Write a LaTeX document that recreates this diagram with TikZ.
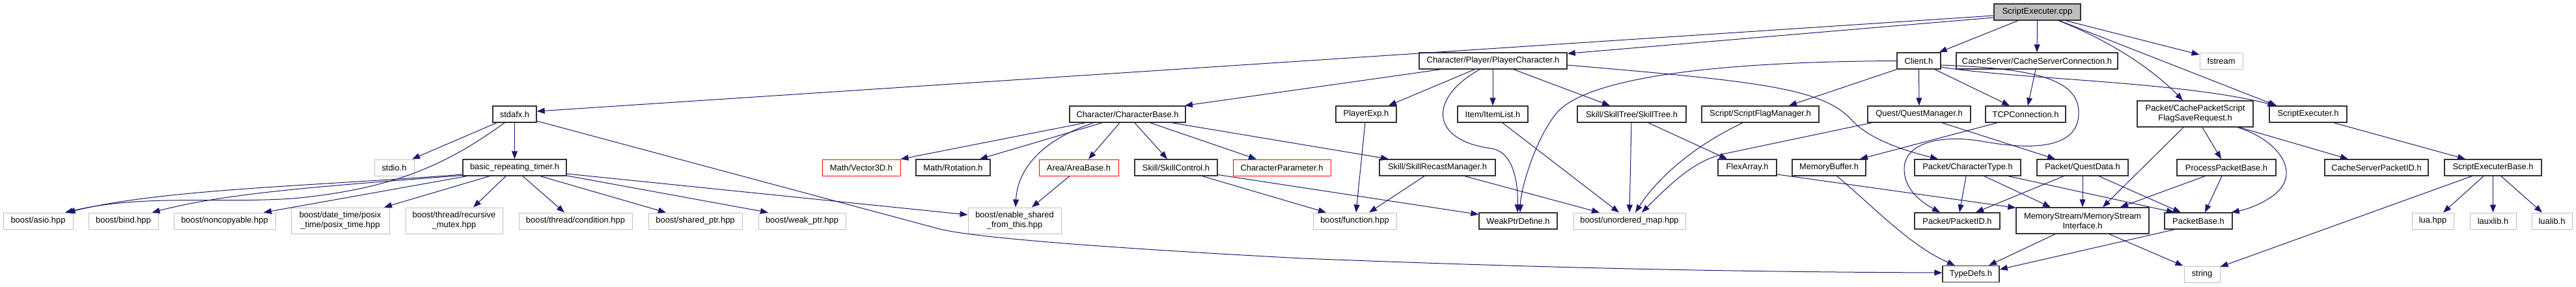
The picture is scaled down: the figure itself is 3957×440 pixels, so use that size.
\documentclass[tikz,border=0pt]{standalone}
\usepackage{fontspec}
\setmainfont{Liberation Sans}
\usetikzlibrary{arrows.meta}
\definecolor{edgec}{HTML}{191970}
\definecolor{docc}{HTML}{333333}
\definecolor{extc}{HTML}{BFBFBF}
\newcommand\nodefont{\fontsize{12.9}{15}\selectfont}
\begin{document}
\begin{tikzpicture}[x=1pt,y=-1pt,
  base/.style={draw, rectangle, inner sep=0pt, minimum height=25pt, font=\nodefont, text=black, line width=1pt},
  doc/.style={base, draw=docc, line width=1.4pt},
  ext/.style={base, draw=extc},
  miss/.style={base, draw=red},
  root/.style={base, draw=docc, line width=1.4pt, fill=extc},
  two/.style={minimum height=40pt, align=center},
  edge/.style={draw=edgec, line width=1pt, -{Triangle[length=12pt,width=9pt]}}
]
\useasboundingbox (0,0) rectangle (3957,440);
% ---------- nodes ----------
\node[root, minimum width=133pt] (cpp) at (3129.5,18.5) {ScriptExecuter.cpp};
\node[doc, minimum width=227pt] (PC) at (2293.5,93.5) {Character/Player/PlayerCharacter.h};
\node[doc, minimum width=67pt] (Client) at (2947.5,93.5) {Client.h};
\node[doc, minimum width=248pt] (CSC) at (3129,93.5) {CacheServer/CacheServerConnection.h};
\node[ext, minimum width=66pt] (fstream) at (3412,93.5) {fstream};
\node[doc, minimum width=67pt] (stdafx) at (790.5,175.5) {stdafx.h};
\node[doc, minimum width=178pt] (CB) at (1732,175.5) {Character/CharacterBase.h};
\node[doc, minimum width=93pt] (PE) at (2098.5,175.5) {PlayerExp.h};
\node[doc, minimum width=108pt] (IL) at (2293,175.5) {Item/ItemList.h};
\node[doc, minimum width=167pt] (ST) at (2506.5,175.5) {Skill/SkillTree/SkillTree.h};
\node[doc, minimum width=180pt] (SFM) at (2704,175.5) {Script/ScriptFlagManager.h};
\node[doc, minimum width=158pt] (QM) at (2948,175.5) {Quest/QuestManager.h};
\node[doc, minimum width=123pt] (TCP) at (3111.5,175.5) {TCPConnection.h};
\node[doc, two, minimum width=178pt] (CPS) at (3372,175) {Packet/CachePacketScript\\FlagSaveRequest.h};
\node[doc, minimum width=119pt] (SEh) at (3545.5,175.5) {ScriptExecuter.h};
\node[ext, minimum width=61pt] (stdio) at (605.5,257.5) {stdio.h};
\node[doc, minimum width=159pt] (brt) at (790.5,257.5) {basic\_repeating\_timer.h};
\node[miss, minimum width=120pt] (V3D) at (1323,257.5) {Math/Vector3D.h};
\node[doc, minimum width=114pt] (Rot) at (1464,257.5) {Math/Rotation.h};
\node[miss, minimum width=122pt] (AB) at (1657,257.5) {Area/AreaBase.h};
\node[doc, minimum width=127pt] (SC) at (1806.5,257.5) {Skill/SkillControl.h};
\node[miss, minimum width=150pt] (CP) at (1969,257.5) {CharacterParameter.h};
\node[doc, minimum width=178pt] (SRM) at (2208,257.5) {Skill/SkillRecastManager.h};
\node[doc, minimum width=90pt] (FA) at (2684,257.5) {FlexArray.h};
\node[doc, minimum width=113pt] (MB) at (2809.5,257.5) {MemoryBuffer.h};
\node[doc, minimum width=163pt] (CT) at (3022.5,257.5) {Packet/CharacterType.h};
\node[doc, minimum width=140pt] (QD) at (3199,257.5) {Packet/QuestData.h};
\node[doc, minimum width=152pt] (PPB) at (3420,257.5) {ProcessPacketBase.h};
\node[doc, minimum width=159pt] (CSPID) at (3650.5,257.5) {CacheServerPacketID.h};
\node[doc, minimum width=149pt] (SEB) at (3829.5,257.5) {ScriptExecuterBase.h};
\node[ext, minimum width=107pt] (asio) at (58.5,339.5) {boost/asio.hpp};
\node[ext, minimum width=107pt] (bind) at (189.5,339.5) {boost/bind.hpp};
\node[ext, minimum width=156pt] (nonc) at (345,339.5) {boost/noncopyable.hpp};
\node[ext, two, minimum width=151pt] (dt) at (522.5,339) {boost/date\_time/posix\\\_time/posix\_time.hpp};
\node[ext, two, minimum width=149pt] (rm) at (697.5,339) {boost/thread/recursive\\\_mutex.hpp};
\node[ext, minimum width=174pt] (cond) at (884,339.5) {boost/thread/condition.hpp};
\node[ext, minimum width=144pt] (sp) at (1068,339.5) {boost/shared\_ptr.hpp};
\node[ext, minimum width=134pt] (wp) at (1232,339.5) {boost/weak\_ptr.hpp};
\node[ext, two, minimum width=143pt] (esft) at (1558.5,339) {boost/enable\_shared\\\_from\_this.hpp};
\node[ext, minimum width=128pt] (func) at (2081,339.5) {boost/function.hpp};
\node[doc, minimum width=120pt] (WPD) at (2332,339.5) {WeakPtrDefine.h};
\node[ext, minimum width=172pt] (um) at (2503,339.5) {boost/unordered\_map.hpp};
\node[doc, minimum width=131pt] (PID) at (3006.5,339.5) {Packet/PacketID.h};
\node[doc, two, minimum width=204pt] (MSI) at (3199,339) {MemoryStream/MemoryStream\\Interface.h};
\node[doc, minimum width=104pt] (PB) at (3377,339.5) {PacketBase.h};
\node[ext, minimum width=64pt] (lua) at (3737,339.5) {lua.hpp};
\node[ext, minimum width=71pt] (laux) at (3829.5,339.5) {lauxlib.h};
\node[ext, minimum width=62pt] (lualib) at (3920,339.5) {lualib.h};
\node[doc, minimum width=87pt] (TD) at (3027.5,421) {TypeDefs.h};
\node[ext, minimum width=55pt] (string) at (3382.5,421.5) {string};
% ---------- edges ----------
% ScriptExecuter.cpp
\draw[edge] ([yshift=-5.5pt]cpp.west) -- ([yshift=4.5pt]stdafx.east);
\draw[edge] ([yshift=-8.5pt]cpp.west) -- ([yshift=-2pt]PC.north east);
\draw[edge] ([xshift=-29.5pt]cpp.south) -- ([xshift=-3pt]Client.north east);
\draw[edge] (cpp.south) -- (CSC.north);
\draw[edge] ([xshift=43.5pt]cpp.south) -- ([yshift=9.5pt]fstream.west);
\draw[edge] ([xshift=32.5pt]cpp.south) .. controls (3260,70) and (3320,120) .. ([xshift=-19pt]CPS.north);
\draw[edge] ([xshift=34pt]cpp.south) -- ([xshift=-48.5pt]SEh.north);
% PlayerCharacter
\draw[edge] ([xshift=-80.5pt]PC.south) -- ([xshift=88pt]CB.north);
\draw[edge] ([xshift=-28.5pt]PC.south) -- ([xshift=34.5pt]PE.north);
\draw[edge] ([xshift=-20.5pt]PC.south) .. controls (2195,150) and (2195,215) .. (2290,228) .. controls (2325,233) and (2332,280) .. ([xshift=-1pt]WPD.north);
\draw[edge] ([xshift=-0.5pt]PC.south) -- (IL.north);
\draw[edge] ([xshift=31.5pt]PC.south) -- ([xshift=-33.5pt]ST.north);
\draw[edge] ([yshift=-6.5pt]PC.east) .. controls (2700,125) and (2800,135) .. (2845,185) .. controls (2875,218) and (2940,235) .. ([xshift=-45.5pt]CT.north);
% Client
\draw[edge] (Client.west) .. controls (2600,95) and (2430,125) .. (2390,175) .. controls (2358,215) and (2336,290) .. ([xshift=3pt]WPD.north);
\draw[edge] (Client.south west) -- ([xshift=44pt]SFM.north);
\draw[edge] (Client.south) -- (QM.north);
\draw[edge] ([xshift=24.5pt]Client.south) -- ([xshift=-24.5pt]TCP.north);
\draw[edge] ([yshift=-9.5pt]Client.east) .. controls (3100,122) and (3350,125) .. ([xshift=-50pt]SEh.north);
\draw[edge] ([yshift=-6.5pt]Client.east) .. controls (3120,105) and (3195,120) .. (3193,175) .. controls (3192,225) and (3130,232) .. (3050,218) .. controls (2980,205) and (2925,220) .. (2925,260) .. controls (2925,290) and (2950,310) .. ([xshift=-26.5pt]PID.north);
% CacheServerConnection, TCP
\draw[edge] ([xshift=-2pt]CSC.south) -- ([xshift=3.5pt]TCP.north);
\draw[edge] ([xshift=-43.5pt]TCP.south) -- ([xshift=47.5pt]MB.north);
% QuestManager
\draw[edge] ([xshift=-73pt]QM.south) -- (2650,236) .. controls (2610,245) and (2580,268) .. ([xshift=19pt]um.north);
\draw[edge] ([xshift=35pt]QM.south) -- ([xshift=-42pt]QD.north);
% ScriptFlagManager, SkillTree, ItemList, PlayerExp, SkillRecastManager
\draw[edge] ([xshift=-27pt]SFM.south) .. controls (2600,225) and (2545,275) .. ([xshift=9pt]um.north);
\draw[edge] ([xshift=-0.5pt]ST.south) -- (um.north);
\draw[edge] ([xshift=25.5pt]ST.south) -- ([xshift=-31pt]FA.north);
\draw[edge] ([xshift=15pt]IL.south) -- ([xshift=-16pt]um.north);
\draw[edge] ([xshift=-1.5pt]PE.south) -- ([xshift=2pt]func.north);
\draw[edge] ([xshift=-20pt]SRM.south) -- ([xshift=22pt]func.north);
\draw[edge] ([xshift=42pt]SRM.south) -- ([xshift=-46pt]um.north);
% FlexArray, MemoryBuffer
\draw[edge] ([yshift=-10.5pt]FA.east) -- ([yshift=-1pt]MSI.north west);
\draw[edge] ([xshift=12.5pt]MB.south) .. controls (2880,320) and (2935,378) .. ([xshift=-24.5pt]TD.north);
% CharacterType
\draw[edge] ([xshift=-2.5pt]CT.south) -- ([xshift=3.5pt]PID.north);
\draw[edge] ([xshift=25.5pt]CT.south) -- ([xshift=-49pt]MSI.north);
\draw[edge] ([xshift=62.5pt]CT.south) -- ([xshift=-37pt]PB.north);
% QuestData
\draw[edge] ([xshift=-29pt]QD.south) -- ([xshift=28.5pt]PID.north);
\draw[edge] (QD.south) -- (MSI.north);
\draw[edge] ([xshift=25pt]QD.south) -- ([xshift=-27pt]PB.north);
% CachePacketScriptFlagSaveRequest
\draw[edge] ([xshift=-18pt]CPS.south) -- ([xshift=31pt]MSI.north);
\draw[edge] ([xshift=11pt]CPS.south) -- ([xshift=-8pt]PPB.north);
\draw[edge] ([xshift=65pt]CPS.south) .. controls (3500,215) and (3535,265) .. (3495,298) .. controls (3475,314) and (3450,322) .. ([xshift=-2pt]PB.north east);
\draw[edge] ([xshift=68pt]CPS.south) -- ([xshift=-43.5pt]CSPID.north);
% ProcessPacketBase
\draw[edge] ([xshift=-33pt]PPB.south) -- ([xshift=58pt]MSI.north);
\draw[edge] ([xshift=-7pt]PPB.south) -- ([xshift=10pt]PB.north);
% MemoryStreamInterface, PacketBase
\draw[edge] ([xshift=-42pt]MSI.south) -- ([xshift=27.5pt]TD.north);
\draw[edge] ([xshift=41pt]MSI.south) -- ([xshift=-29pt]string.north);
\draw[edge] ([xshift=-37pt]PB.south) -- ([yshift=7pt]TD.east);
% ScriptExecuter.h, ScriptExecuterBase
\draw[edge] ([xshift=39.5pt]SEh.south) -- ([xshift=-42.5pt]SEB.north);
\draw[edge] ([xshift=-32.5pt]SEB.south) -- ([yshift=11.5pt]string.east);
\draw[edge] ([xshift=-14.5pt]SEB.south) -- ([xshift=16pt]lua.north);
\draw[edge] (SEB.south) -- (laux.north);
\draw[edge] ([xshift=12.5pt]SEB.south) -- ([xshift=-15pt]lualib.north);
% stdafx
\draw[edge] ([xshift=-27.5pt]stdafx.south) -- ([xshift=27.5pt]stdio.north);
\draw[edge] (stdafx.south) -- (brt.north);
\draw[edge] ([xshift=-15.5pt]stdafx.south) .. controls (690,250) and (610,290) .. (450,305) .. controls (330,313) and (220,298) .. ([xshift=41.5pt]asio.north);
\draw[edge] ([yshift=-10.5pt]stdafx.east) -- (1440,351) .. controls (1490,365) and (1700,381) .. (2000,397) .. controls (2400,413) and (2700,418) .. ([yshift=2pt]TD.west);
% basic_repeating_timer
\draw[edge] ([yshift=-10.5pt]brt.west) .. controls (500,285) and (250,290) .. ([xshift=45pt]asio.north);
\draw[edge] ([yshift=-12pt]brt.west) .. controls (500,286) and (350,296) .. ([xshift=44pt]bind.north);
\draw[edge] ([xshift=-73.5pt]brt.south) -- ([xshift=60pt]nonc.north);
\draw[edge] ([xshift=-38.5pt]brt.south) -- ([xshift=67.5pt]dt.north);
\draw[edge] ([xshift=-13.5pt]brt.south) -- ([xshift=29.5pt]rm.north);
\draw[edge] ([xshift=12.5pt]brt.south) -- ([xshift=-17pt]cond.north);
\draw[edge] ([xshift=39.5pt]brt.south) -- ([xshift=-45pt]sp.north);
\draw[edge] ([yshift=-12.5pt]brt.east) -- ([xshift=-52pt]wp.north);
\draw[edge] ([yshift=-9.5pt]brt.east) -- ([yshift=9pt]esft.west);
% CharacterBase
\draw[edge] ([xshift=-65pt]CB.south) -- (V3D.north east);
\draw[edge] ([xshift=-39pt]CB.south) -- ([xshift=41pt]Rot.north);
\draw[edge] ([xshift=-52pt]CB.south) .. controls (1600,215) and (1563,260) .. ([xshift=1.5pt]esft.north);
\draw[edge] ([xshift=-12pt]CB.south) -- ([xshift=15pt]AB.north);
\draw[edge] ([xshift=11pt]CB.south) -- ([xshift=-13.5pt]SC.north);
\draw[edge] ([xshift=35pt]CB.south) -- ([xshift=-39pt]CP.north);
\draw[edge] ([xshift=68pt]CB.south) -- ([xshift=-75pt]SRM.north);
% AreaBase, SkillControl
\draw[edge] ([xshift=-14pt]AB.south) -- ([xshift=26.5pt]esft.north);
\draw[edge] ([xshift=40.5pt]SC.south) -- ([xshift=-44pt]func.north);
\draw[edge] ([yshift=-11pt]SC.east) -- ([yshift=10pt]WPD.west);
\end{tikzpicture}
\end{document}
